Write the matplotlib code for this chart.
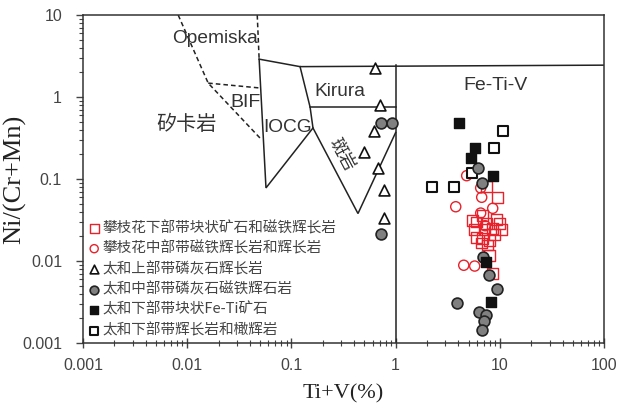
import matplotlib
matplotlib.use("Agg")
import matplotlib.pyplot as plt
from matplotlib.ticker import FixedLocator, FixedFormatter, LogLocator, NullFormatter

# ---------------- data ----------------
pzh_lower_sq_x = [7.47, 9.52, 5.99, 7.47, 9.32, 9.95, 5.73, 7.15, 8.53, 10.4, 5.99, 6.84, 7.98, 6.69, 7.64, 7.98, 8.53, 5.48, 6.84, 8.8]
pzh_lower_sq_y = [0.082, 0.060, 0.030, 0.029, 0.0325, 0.029, 0.024, 0.024, 0.025, 0.024, 0.0196, 0.019, 0.018, 0.0166, 0.0157, 0.0118, 0.0071, 0.031, 0.036, 0.021]

pzh_mid_ci_x = [3.77, 4.8, 6.54, 6.69, 8.53, 6.54, 4.5, 5.73, 7.2]
pzh_mid_ci_y = [0.046, 0.11, 0.078, 0.060, 0.044, 0.0385, 0.0089, 0.0087, 0.027]

th_upper_tri_x = [0.634, 0.708, 0.621, 0.498, 0.678, 0.774, 0.774]
th_upper_tri_y = [2.26, 0.80, 0.385, 0.213, 0.136, 0.073, 0.034]

th_mid_ci_x = [0.72, 0.92, 0.72, 6.12, 6.69, 6.84, 7.81, 9.32, 3.85, 6.26, 7.31, 6.99, 6.69]
th_mid_ci_y = [0.48, 0.48, 0.0213, 0.136, 0.089, 0.0112, 0.0067, 0.0046, 0.0031, 0.0024, 0.0022, 0.00185, 0.00144]

th_ore_sq_x = [4.02, 5.73, 5.25, 8.53, 7.31, 8.16]
th_ore_sq_y = [0.48, 0.24, 0.18, 0.109, 0.0097, 0.0032]

th_gab_sq_x = [10.6, 8.72, 5.36, 2.22, 3.60]
th_gab_sq_y = [0.385, 0.24, 0.118, 0.080, 0.080]

labels = ["攀枝花下部带块状矿石和磁铁辉长岩",
          "攀枝花中部带磁铁辉长岩和辉长岩",
          "太和上部带磷灰石辉长岩",
          "太和中部带磷灰石磁铁辉石岩",
          "太和下部带块状Fe-Ti矿石",
          "太和下部带辉长岩和橄辉岩"]

# field boundaries (data coords)
dash_a_x = [0.0082, 0.0159, 0.052]
dash_a_y = [10, 1.48, 0.30]
dash_b_x = [0.0159, 0.050]
dash_b_y = [1.48, 1.29]
dash_c_x = [0.047, 0.049]
dash_c_y = [10, 2.9]

iocg_x = [0.049, 0.057, 0.161]
iocg_y = [2.9, 0.078, 0.42]
top_x = [0.049, 0.121, 100]
top_y = [2.9, 2.35, 2.45]
kir_left_x = [0.121, 0.151, 0.161, 0.435, 1.0]
kir_left_y = [2.35, 0.755, 0.42, 0.038, 0.37]
kir_bot_x = [0.151, 1.0]
kir_bot_y = [0.755, 0.755]
fe_left_x = [1.0, 1.0]
fe_left_y = [2.45, 0.001]

tick_vals_x = [0.001, 0.01, 0.1, 1, 10, 100]
tick_lbl_x = ["0.001", "0.01", "0.1", "1", "10", "100"]
tick_vals_y = [0.001, 0.01, 0.1, 1, 10]
tick_lbl_y = ["0.001", "0.01", "0.1", "1", "10"]

# ---------------- plot ----------------
cjk = ['Noto Sans CJK SC', 'DejaVu Sans']
serif = ['Liberation Serif', 'DejaVu Serif']
plt.rcParams['font.family'] = ['Liberation Sans', 'DejaVu Sans']

fig = plt.figure(figsize=(6.19, 4.07), dpi=100)
ax = fig.add_axes([0.134, 0.157, 0.842, 0.806])
ax.set_xscale('log')
ax.set_yscale('log')
ax.set_xlim(0.001, 100)
ax.set_ylim(0.001, 10)

lc = '#222222'
lw = 1.1
for xs, ys in [(dash_a_x, dash_a_y), (dash_b_x, dash_b_y), (dash_c_x, dash_c_y)]:
    ax.plot(xs, ys, color=lc, lw=lw, ls=(0, (3, 2)))
for xs, ys in [(iocg_x, iocg_y), (top_x, top_y), (kir_left_x, kir_left_y),
               (kir_bot_x, kir_bot_y), (fe_left_x, fe_left_y)]:
    ax.plot(xs, ys, color=lc, lw=lw, solid_joinstyle='miter')

ms = 7.8
red = '#e8212b'
ax.scatter(pzh_lower_sq_x, pzh_lower_sq_y, marker='s', s=ms**2, facecolors='none',
           edgecolors=red, linewidths=1.0, label=labels[0], zorder=3)
ax.scatter(pzh_mid_ci_x, pzh_mid_ci_y, marker='o', s=(ms-0.5)**2, facecolors='none',
           edgecolors=red, linewidths=1.0, label=labels[1], zorder=3)
ax.scatter(th_upper_tri_x, th_upper_tri_y, marker='^', s=ms**2, facecolors='white',
           edgecolors='#111111', linewidths=1.2, label=labels[2], zorder=3)
ax.scatter(th_mid_ci_x, th_mid_ci_y, marker='o', s=ms**2, facecolors='#808080',
           edgecolors='#222222', linewidths=1.2, label=labels[3], zorder=4)
ax.scatter(th_ore_sq_x, th_ore_sq_y, marker='s', s=ms**2, facecolors='#111111',
           edgecolors='#111111', linewidths=1.0, label=labels[4], zorder=4)
ax.scatter(th_gab_sq_x, th_gab_sq_y, marker='s', s=ms**2, facecolors='white',
           edgecolors='#111111', linewidths=1.5, label=labels[5], zorder=3)

tc = '#333333'
ax.text(0.0185, 5.2, "Opemiska", fontsize=13.8, color=tc, ha='center', va='center')
ax.text(0.036, 0.85, "BIF", fontsize=14, color=tc, ha='center', va='center')
ax.text(0.0098, 0.46, "矽卡岩", fontsize=14.5, color=tc, ha='center', va='center', family=cjk)
ax.text(0.092, 0.43, "IOCG", fontsize=13.8, color=tc, ha='center', va='center')
ax.text(0.29, 1.16, "Kirura", fontsize=13.8, color=tc, ha='center', va='center')
ax.text(0.31, 0.20, "斑岩", fontsize=12.5, color=tc, ha='center', va='center', rotation=-62, family=cjk)
ax.text(9.0, 1.4, "Fe-Ti-V", fontsize=14, color=tc, ha='center', va='center')

ax.xaxis.set_major_locator(FixedLocator(tick_vals_x))
ax.xaxis.set_major_formatter(FixedFormatter(tick_lbl_x))
ax.yaxis.set_major_locator(FixedLocator(tick_vals_y))
ax.yaxis.set_major_formatter(FixedFormatter(tick_lbl_y))
ax.xaxis.set_minor_locator(LogLocator(base=10, subs=range(2, 10), numticks=20))
ax.yaxis.set_minor_locator(LogLocator(base=10, subs=range(2, 10), numticks=20))
ax.xaxis.set_minor_formatter(NullFormatter())
ax.yaxis.set_minor_formatter(NullFormatter())
ax.tick_params(axis='x', which='major', direction='inout', length=7, width=1, labelsize=11.5, colors='#444444', pad=7)
ax.tick_params(axis='x', which='minor', direction='inout', length=4, width=0.8, colors='#444444')
ax.tick_params(axis='y', which='major', direction='out', length=5, width=1, labelsize=11.5, colors='#444444', pad=10)
ax.tick_params(axis='y', which='minor', direction='out', length=3, width=0.8, colors='#444444')
for sp in ax.spines.values():
    sp.set_color('#333333')
    sp.set_linewidth(1.1)

ax.set_xlabel("Ti+V(%)", family=serif, fontsize=16, color='#222222', labelpad=8)
ax.set_ylabel("Ni/(Cr+Mn)", family=serif, fontsize=19, color='#222222')
ax.yaxis.set_label_coords(-0.108, 0.50)

leg = ax.legend(loc='upper left', bbox_to_anchor=(-0.005, 0.40), frameon=False,
                prop={'family': cjk, 'size': 10.5}, handlelength=0.7, handletextpad=0.25,
                labelspacing=0.42, borderaxespad=0.2, markerscale=0.8)
for t in leg.get_texts():
    t.set_color('#444444')

fig.savefig("out.png", dpi=100)
